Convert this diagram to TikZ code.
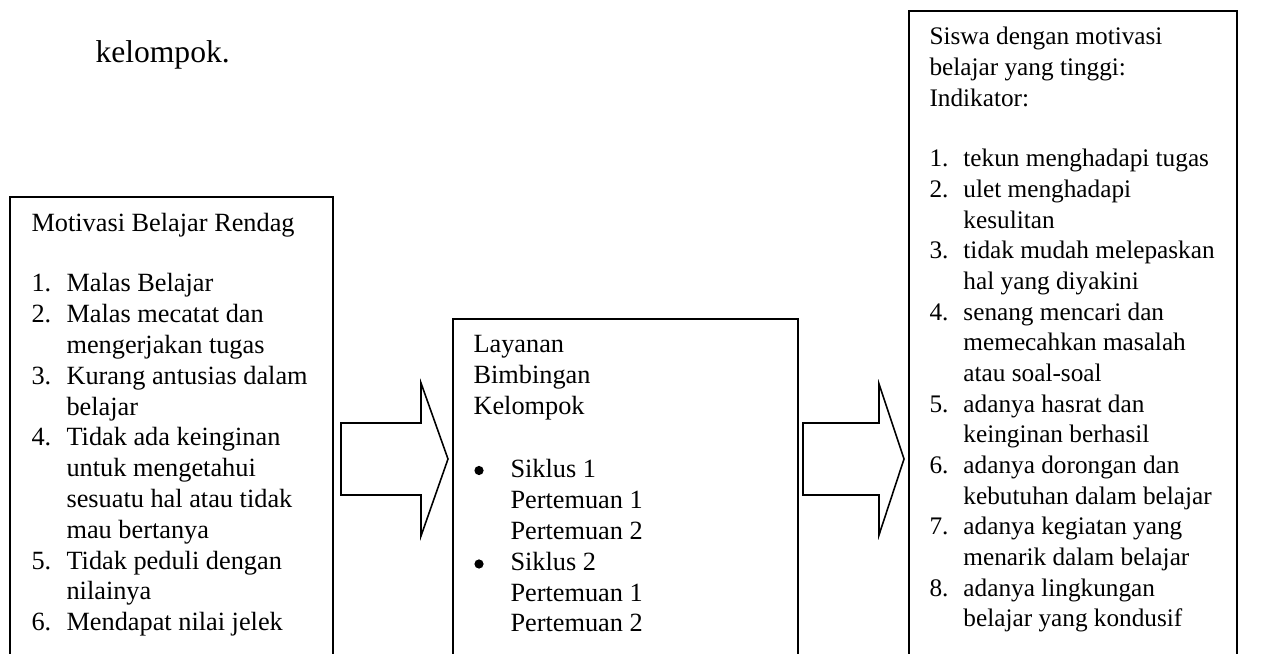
\documentclass[tikz,border=0pt]{standalone}
\usepackage{fontspec}
\setmainfont{Liberation Serif}
\newcommand{\boxfont}{\fontsize{10}{11.7}\selectfont}
\newcommand{\rboxfont}{\fontsize{9.6}{11.65}\selectfont}
\newcommand{\numit}[1]{\makebox[13.3pt][l]{#1}}
\newcommand{\numr}[1]{\makebox[12.9pt][l]{#1}}
\begin{document}
\begin{tikzpicture}[x=0.38pt,y=-0.38pt,
  boxline/.style={line width=0.8pt},
  blockarrow/.style={line width=0.6pt, line join=miter},
  txt/.style={anchor=base west, inner sep=0pt, font=\rmfamily\boxfont},
  rtxt/.style={anchor=base west, inner sep=0pt, font=\rmfamily\rboxfont},
  bulletdot/.style={fill=black}]
\useasboundingbox (0,0) rectangle (1270,654);
\clip (0,0) rectangle (1270,654);

\node[anchor=base west, inner sep=0pt, font=\rmfamily\fontsize{12}{14}\selectfont] (kel) at (95,63) {kelompok.};

% left box
\draw[boxline] (10,670) -- (10,197) -- (333,197) -- (333,670);
\node[txt] (lt) at (31,232) {Motivasi Belajar Rendag};
\node[txt] (ll) at (31,292) {\begin{tabular}[t]{@{}l@{}}
\numit{1.}Malas Belajar\\
\numit{2.}Malas mecatat dan\\
\numit{}mengerjakan tugas\\
\numit{3.}Kurang antusias dalam\\
\numit{}belajar\\
\numit{4.}Tidak ada keinginan\\
\numit{}untuk mengetahui\\
\numit{}sesuatu hal atau tidak\\
\numit{}mau bertanya\\
\numit{5.}Tidak peduli dengan\\
\numit{}nilainya\\
\numit{6.}Mendapat nilai jelek
\end{tabular}};

% middle box
\draw[boxline] (453,670) -- (453,319) -- (798,319) -- (798,670);
\node[txt] (mt) at (473,353) {\begin{tabular}[t]{@{}l@{}}
Layanan\\
Bimbingan\\
Kelompok
\end{tabular}};
\node[txt] (ml) at (510,478) {\begin{tabular}[t]{@{}l@{}}
Siklus 1\\
Pertemuan 1\\
Pertemuan 2\\
Siklus 2\\
Pertemuan 1\\
Pertemuan 2
\end{tabular}};
\fill[bulletdot] (479,470.5) circle [radius=1.75pt];
\fill[bulletdot] (479,564) circle [radius=1.75pt];

% right box
\draw[boxline] (909,670) -- (909,11) -- (1237,11) -- (1237,670);
\node[rtxt] (rt) at (929,45) {\begin{tabular}[t]{@{}l@{}}
Siswa dengan motivasi\\
belajar yang tinggi:\\
Indikator:
\end{tabular}};
\node[rtxt] (rl) at (929,167) {\begin{tabular}[t]{@{}l@{}}
\numr{1.}tekun menghadapi tugas\\
\numr{2.}ulet menghadapi\\
\numr{}kesulitan\\
\numr{3.}tidak mudah melepaskan\\
\numr{}hal yang diyakini\\
\numr{4.}senang mencari dan\\
\numr{}memecahkan masalah\\
\numr{}atau soal-soal\\
\numr{5.}adanya hasrat dan\\
\numr{}keinginan berhasil\\
\numr{6.}adanya dorongan dan\\
\numr{}kebutuhan dalam belajar\\
\numr{7.}adanya kegiatan yang\\
\numr{}menarik dalam belajar\\
\numr{8.}adanya lingkungan\\
\numr{}belajar yang kondusif
\end{tabular}};

% block arrows
\draw[blockarrow] (341,423) -- (421,423) -- (421,383) -- (448,459) -- (421,536) -- (421,495) -- (341,495) -- cycle;
\draw[blockarrow] (803,423) -- (879,423) -- (879,384) -- (904,459) -- (879,535) -- (879,495) -- (803,495) -- cycle;
\end{tikzpicture}
\end{document}
